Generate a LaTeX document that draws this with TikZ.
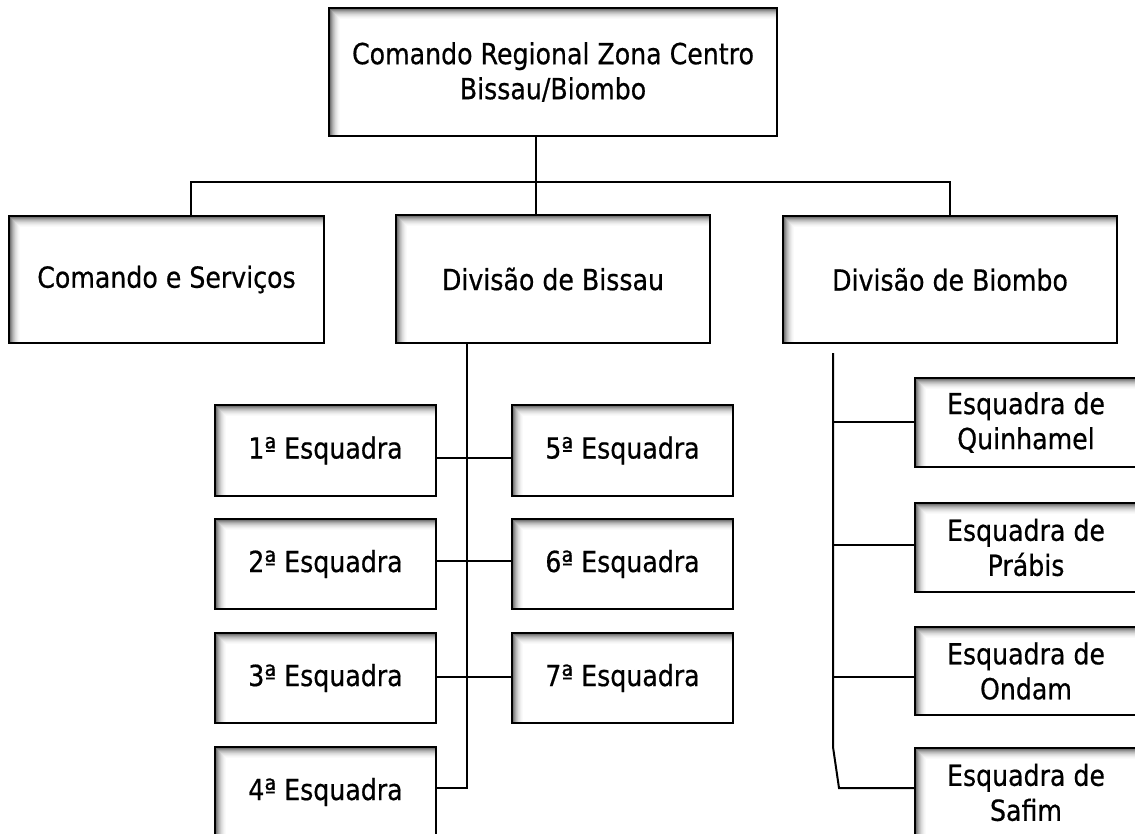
\documentclass[tikz,border=0pt]{standalone}
\usepackage{fontspec}
\setmainfont{DejaVu Sans}[FakeStretch=0.87,FakeBold=0.6]
\usetikzlibrary{calc}
\newcommand{\shadowlist}{0.5/66,1.5/54,2.5/44,3.5/35,4.5/27,5.5/21,6.5/15,7.5/11,8.5/7,9.5/4,10.5/2}
\tikzset{
  orgbox/.style={draw=black, line width=2pt, fill=white, inner sep=0pt,
    align=center, font=\fontsize{29}{35}\selectfont,
    path picture={
      \foreach \d/\c in \shadowlist {
        \draw[black!\c, line width=1.1pt]
          ([yshift=-\d pt]path picture bounding box.north west) -- ([yshift=-\d pt]path picture bounding box.north east);
      }
      \foreach \d/\c in \shadowlist {
        \draw[black!\c, line width=1.1pt]
          ([xshift=\d pt, yshift=-\d pt]path picture bounding box.north west) -- ([xshift=\d pt]path picture bounding box.south west);
      }
    }},
  link/.style={draw=black, line width=2pt}
}
\begin{document}
\begin{tikzpicture}[x=1pt,y=-1pt]
\useasboundingbox (0,0) rectangle (1135,834);
\clip (0,0) rectangle (1135,834);
% level 0
\node[orgbox, minimum width=448pt, minimum height=128pt] (top) at (553,72) {Comando Regional Zona Centro\\Bissau/Biombo};
% level 1
\node[orgbox, minimum width=315pt, minimum height=127pt] (cs) at (166.5,279.5) {Comando e Serviços};
\node[orgbox, minimum width=314pt, minimum height=128pt] (bissau) at (553,279) {Divisão de Bissau};
\node[orgbox, minimum width=334pt, minimum height=127pt] (biombo) at (950,279.5) {Divisão de Biombo};
% Bissau squads
\node[orgbox, minimum width=221pt, minimum height=91pt] (e1) at (325.5,450.5) {1ª Esquadra};
\node[orgbox, minimum width=221pt, minimum height=90pt] (e2) at (325.5,564) {2ª Esquadra};
\node[orgbox, minimum width=221pt, minimum height=90pt] (e3) at (325.5,678) {3ª Esquadra};
\node[orgbox, minimum width=221pt, minimum height=90pt] (e4) at (325.5,792) {4ª Esquadra};
\node[orgbox, minimum width=221pt, minimum height=91pt] (e5) at (622.5,450.5) {5ª Esquadra};
\node[orgbox, minimum width=221pt, minimum height=90pt] (e6) at (622.5,564) {6ª Esquadra};
\node[orgbox, minimum width=221pt, minimum height=90pt] (e7) at (622.5,678) {7ª Esquadra};
% Biombo squads
\node[orgbox, minimum width=222pt, minimum height=89pt] (q) at (1026,422.5) {Esquadra de\\Quinhamel};
\node[orgbox, minimum width=222pt, minimum height=89pt] (p) at (1026,547.5) {Esquadra de\\Prábis};
\node[orgbox, minimum width=222pt, minimum height=88pt] (o) at (1026,671) {Esquadra de\\Ondam};
\node[orgbox, minimum width=222pt, minimum height=89pt] (s) at (1026,792.5) {Esquadra de\\Safim};
% connector points
\coordinate (t) at (536,182);
\coordinate (bl) at (191,182);
\coordinate (br) at (950,182);
\coordinate (j1) at (467,458);
\coordinate (j2) at (467,561);
\coordinate (j3) at (467,677);
\coordinate (j4) at (467,788);
\coordinate (r0) at (833,353);
\coordinate (r1) at (833,747);
\coordinate (r2) at (839,788);
\coordinate (k1) at (833,422);
\coordinate (k2) at (833,545);
\coordinate (k3) at (833,677);
% connectors
\draw[link] (top.south -| t) -- (bissau.north -| t);
\draw[link] (bl |- cs.north) -- (bl) -- (br) -- (biombo.north);
\draw[link] (j1 |- bissau.south) -- (j4) -- (e4.east |- j4);
\draw[link] (e1.east |- j1) -- (e5.west |- j1);
\draw[link] (e2.east |- j2) -- (e6.west |- j2);
\draw[link] (e3.east |- j3) -- (e7.west |- j3);
\draw[link, line join=miter] (r0) -- (r1) -- (r2) -- (s.west |- r2);
\draw[link] (k1) -- (q.west |- k1);
\draw[link] (k2) -- (p.west |- k2);
\draw[link] (k3) -- (o.west |- k3);
\end{tikzpicture}
\end{document}
